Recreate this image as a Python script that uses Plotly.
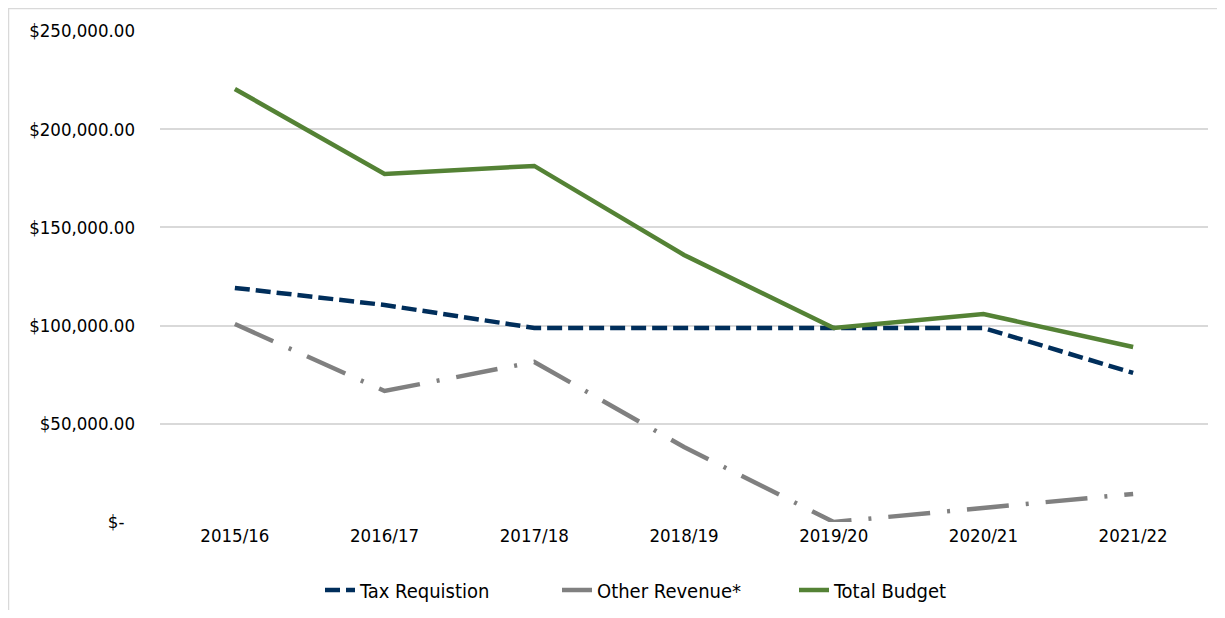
import plotly.graph_objects as go

years = ["2015/16", "2016/17", "2017/18", "2018/19", "2019/20", "2020/21", "2021/22"]
tax_requisition = [119200, 110500, 98800, 98800, 98800, 98800, 75900]
other_revenue = [100800, 66700, 81500, 38200, 0, 7100, 14300]
total_budget = [220500, 177200, 181300, 136000, 98800, 105900, 89100]

tick_vals = [0, 50000, 100000, 150000, 200000, 250000]
tick_text = ["$-\u00a0\u00a0", "$50,000.00", "$100,000.00", "$150,000.00", "$200,000.00", "$250,000.00"]

font_family = "DejaVu Sans Condensed, Liberation Sans, sans-serif"

fig = go.Figure()
fig.add_trace(go.Scatter(x=years, y=tax_requisition, name="Tax Requistion", mode="lines",
                         line=dict(color="#002E5B", width=4.5, dash="15px,6px")))
fig.add_trace(go.Scatter(x=years, y=other_revenue, name="Other Revenue*", mode="lines",
                         line=dict(color="#808080", width=4.5, dash="42px,17px,3px,17px")))
fig.add_trace(go.Scatter(x=years, y=total_budget, name="Total Budget", mode="lines",
                         line=dict(color="#548235", width=4.5)))

fig.update_layout(
    width=1209, height=602,
    margin=dict(l=152, r=9, t=23, b=88, autoexpand=False),
    paper_bgcolor="white", plot_bgcolor="white",
    font=dict(family=font_family, size=18.5, color="#000000"),
    showlegend=True,
    legend=dict(orientation="h", x=(317 - 152 - 5) / 1048, xanchor="left",
                y=-68 / 491, yanchor="middle", entrywidth=192,
                font=dict(size=20), traceorder="normal"),
    xaxis=dict(type="category", range=[-0.5, 6.5], showgrid=False, showline=False,
               zeroline=False, ticks="", automargin=False),
    yaxis=dict(range=[0, 250000], tickvals=tick_vals, ticktext=tick_text,
               showgrid=True, gridcolor="#D9D9D9", gridwidth=1.5, automargin=False,
               zeroline=False, showline=False, ticks="", ticklabelstandoff=24),
    shapes=[
        dict(type="line", xref="paper", yref="paper",
             x0=-151.5 / 1048, x1=-151.5 / 1048, y0=-1.0, y1=1 + 23 / 491,
             line=dict(color="#D9D9D9", width=1.5)),
        dict(type="line", xref="paper", yref="paper",
             x0=-152 / 1048, x1=1.1, y0=1 + 22.5 / 491, y1=1 + 22.5 / 491,
             line=dict(color="#D9D9D9", width=1.5)),
    ],
)

fig.write_html("out.html")
